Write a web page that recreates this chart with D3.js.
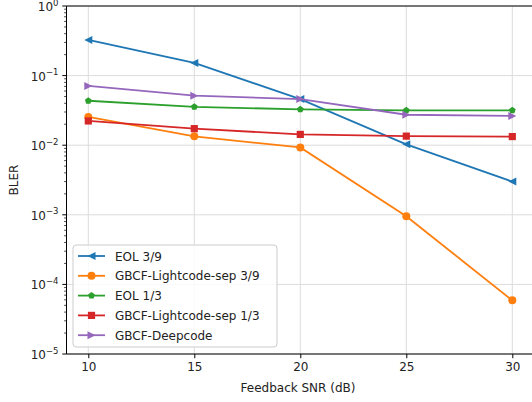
<!DOCTYPE html>
<html><head><meta charset="utf-8">
<script src="https://cdn.jsdelivr.net/npm/d3@7"></script>
<style>
html,body{margin:0;padding:0;background:#fff;}
svg{display:block;font-family:"DejaVu Sans",sans-serif;}
</style></head>
<body><svg id="c" width="532" height="402"></svg>
<script>
const snr = [10, 15, 20, 25, 30];
const seriesNames = ["EOL 3/9", "GBCF-Lightcode-sep 3/9", "EOL 1/3", "GBCF-Lightcode-sep 1/3", "GBCF-Deepcode"];
const eol39 = [0.325, 0.152, 0.046, 0.0103, 0.0030];
const lightcode39 = [0.0255, 0.0134, 0.0093, 0.00095, 0.000059];
const eol13 = [0.0435, 0.0356, 0.0327, 0.0316, 0.0316];
const lightcode13 = [0.0223, 0.0173, 0.0143, 0.0135, 0.0133];
const deepcode = [0.071, 0.0515, 0.046, 0.0274, 0.0263];
const xTicks = [10, 15, 20, 25, 30];
const yTickExps = [0, -1, -2, -3, -4, -5];
const colors = ["#1f77b4", "#ff7f0e", "#2ca02c", "#d62728", "#9467bd"];
const markers = ["tleft", "circle", "pentagon", "square", "tright"];
const seriesValues = [eol39, lightcode39, eol13, lightcode13, deepcode];

const svg = d3.select("#c");
const L = 66.5, T = 6, B = 354;
const x = d3.scaleLinear().domain([9, 31]).range([67.1, 533.5]);
const y = d3.scaleLog().domain([1e-5, 1]).range([B, T]);
const R = x.range()[1];

function markerPath(type, s) {
  const r = s / 2;
  if (type === "circle") return d3.symbol(d3.symbolCircle, Math.PI * r * r)();
  if (type === "square") { const h = r * 0.9; return `M${-h},${-h}H${h}V${h}H${-h}Z`; }
  if (type === "tleft") return `M${-r},0L${r},${-r}L${r},${r}Z`;
  if (type === "tright") return `M${r},0L${-r},${-r}L${-r},${r}Z`;
  if (type === "pentagon") {
    const pr = r * 0.95;
    let p = "";
    for (let i = 0; i < 5; i++) {
      const a = -Math.PI / 2 + i * 2 * Math.PI / 5;
      p += (i ? "L" : "M") + (pr * Math.cos(a)).toFixed(2) + "," + (pr * Math.sin(a)).toFixed(2);
    }
    return p + "Z";
  }
}

// grid
const g = svg.append("g");
g.selectAll("line.gx").data(xTicks).join("line")
  .attr("x1", d => x(d)).attr("x2", d => x(d)).attr("y1", T).attr("y2", B)
  .attr("stroke", "#dcdcdc").attr("stroke-width", 1);
g.selectAll("line.gy").data(yTickExps).join("line")
  .attr("x1", L).attr("x2", R).attr("y1", d => y(Math.pow(10, d))).attr("y2", d => y(Math.pow(10, d)))
  .attr("stroke", "#dcdcdc").attr("stroke-width", 1);

// series
const line = d3.line().x((d, i) => x(snr[i])).y(d => y(d));
seriesValues.forEach((vals, k) => {
  svg.append("path").datum(vals).attr("d", line)
    .attr("fill", "none").attr("stroke", colors[k]).attr("stroke-width", 1.8);
  svg.selectAll(null).data(vals).join("path")
    .attr("transform", (d, i) => `translate(${x(snr[i])},${y(d)})`)
    .attr("d", markerPath(markers[k], k === 2 ? 7.5 : 8))
    .attr("fill", colors[k]);
});

// spines
svg.append("line").attr("x1", L).attr("x2", L).attr("y1", T).attr("y2", B).attr("stroke", "#000").attr("stroke-width", 1);
svg.append("line").attr("x1", L).attr("x2", R).attr("y1", B).attr("y2", B).attr("stroke", "#000").attr("stroke-width", 1);
svg.append("line").attr("x1", L).attr("x2", R).attr("y1", T).attr("y2", T).attr("stroke", "#000").attr("stroke-width", 1);

// x axis
const xa = d3.axisBottom(x).tickValues(xTicks).tickSize(4.2).tickPadding(4).tickFormat(d3.format("d"));
const xg = svg.append("g").attr("transform", `translate(0,${B})`).call(xa);
xg.select(".domain").remove();
xg.selectAll("text").attr("font-size", 12).attr("fill", "#222").attr("font-family", "DejaVu Sans");

// y axis ticks major & minor
const minor = [];
for (let e = -5; e < 0; e++) for (let m = 2; m <= 9; m++) minor.push(m * Math.pow(10, e));
svg.selectAll("line.ymin").data(minor).join("line")
  .attr("x1", L - 2.4).attr("x2", L).attr("y1", d => y(d)).attr("y2", d => y(d))
  .attr("stroke", "#000").attr("stroke-width", 0.7);
svg.selectAll("line.ymaj").data(yTickExps).join("line")
  .attr("x1", L - 4.2).attr("x2", L).attr("y1", d => y(Math.pow(10, d))).attr("y2", d => y(Math.pow(10, d)))
  .attr("stroke", "#000").attr("stroke-width", 1);
const yl = svg.selectAll("text.yl").data(yTickExps).join("text")
  .attr("x", L - 8).attr("y", d => y(Math.pow(10, d)) + 5)
  .attr("text-anchor", "end").attr("font-size", 12).attr("fill", "#222");
yl.append("tspan").text("10");
yl.append("tspan").attr("dy", -5.5).attr("font-size", 8.5).text(d => d === 0 ? "0" : "\u2212" + (-d));

// axis labels
svg.append("text").attr("x", (L + R) / 2 - 2).attr("y", 391.5).attr("text-anchor", "middle")
  .attr("font-size", 12).attr("fill", "#222").text("Feedback SNR (dB)");
svg.append("text").attr("transform", `translate(18,${(T + B) / 2}) rotate(-90)`).attr("text-anchor", "middle")
  .attr("font-size", 12).attr("fill", "#222").text("BLER");

// legend
const lg = svg.append("g");
lg.append("rect").attr("x", 73).attr("y", 245).attr("width", 204).attr("height", 102).attr("rx", 3)
  .attr("fill", "#fff").attr("fill-opacity", 0.8).attr("stroke", "#cccccc").attr("stroke-width", 1);
seriesNames.forEach((name, k) => {
  const yy = 256 + k * 19.8;
  lg.append("line").attr("x1", 78).attr("x2", 105).attr("y1", yy).attr("y2", yy)
    .attr("stroke", colors[k]).attr("stroke-width", 1.8);
  lg.append("path").attr("transform", `translate(91.5,${yy})`).attr("d", markerPath(markers[k], k === 2 ? 7.5 : 8)).attr("fill", colors[k]);
  lg.append("text").attr("x", 115).attr("y", yy + 4.5).attr("font-size", 12).attr("fill", "#222").text(name);
});
</script></body></html>
